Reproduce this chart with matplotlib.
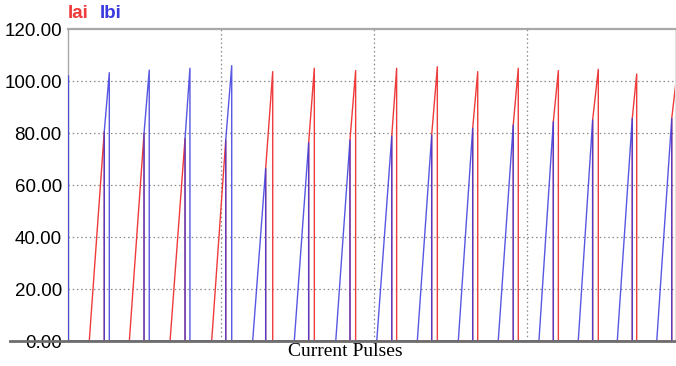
import matplotlib.pyplot as plt
from matplotlib.lines import Line2D

# phase current pulses, time in grid divisions of 10
pulse_start  = [-1.27, 1.39, 4.01, 6.67, 9.39, 12.07, 14.79, 17.50, 20.18, 22.83, 25.51, 28.12, 30.78, 33.35, 35.90, 38.48]
pulse_switch = [-0.29, 2.37, 4.97, 7.65, 10.31, 12.92, 15.73, 18.43, 21.16, 23.77, 26.45, 29.10, 31.72, 34.29, 36.88, 39.46]
pulse_peak   = [0.03, 2.70, 5.31, 7.97, 10.70, 13.38, 16.10, 18.80, 21.48, 24.14, 26.78, 29.43, 32.05, 34.66, 37.17, 39.80]
switch_level = [80.0, 80.5, 79.9, 77.9, 77.3, 66.4, 76.3, 77.3, 78.8, 79.2, 81.8, 83.1, 84.3, 85.0, 85.6, 85.6]
peak_level   = [102.0, 103.2, 104.2, 104.9, 105.9, 103.6, 104.9, 104.0, 104.9, 105.5, 103.6, 104.9, 104.0, 104.5, 102.7, 103.0]
lead_phase   = ['a', 'a', 'a', 'a', 'a', 'b', 'b', 'b', 'b', 'b', 'b', 'b', 'b', 'b', 'b', 'b']

yticks = [0, 20, 40, 60, 80, 100, 120]
xgrid = [10, 20, 30]

RED = '#ee3b3b'
BLUE = '#3a3ade'

# build each phase as one polyline
trace = {'a': ([], []), 'b': ([], [])}
for t0, t1, t2, v1, v2, lead in zip(pulse_start, pulse_switch, pulse_peak,
                                    switch_level, peak_level, lead_phase):
    lag = 'b' if lead == 'a' else 'a'
    xs, ys = trace[lead]
    xs += [t0, t1, t1]
    ys += [0, v1, 0]
    xs, ys = trace[lag]
    xs += [t1, t1, t2, t2]
    ys += [0, v1, v2, 0]

W, H = 676, 366
fig = plt.figure(figsize=(W / 100, H / 100), dpi=100)
ax = fig.add_axes([68 / W, (H - 341) / H, (675 - 68) / W, (341 - 29) / H])

ax.set_xlim(0, (675 - 68) / 15.3)
ax.set_ylim(0, 120)

for y in yticks[1:-1]:
    ax.axhline(y, color='#8a8a8a', lw=0.9, dashes=(1.2, 2.2), zorder=1)
for x in xgrid:
    ax.axvline(x, color='#8a8a8a', lw=0.9, dashes=(1.2, 2.2), zorder=1)

ax.plot(*trace['a'], color=RED, lw=1.0, zorder=3)
ax.plot(*trace['b'], color=BLUE, lw=1.0, alpha=0.85, zorder=4)

ax.set_xticks([])
ax.set_yticks(yticks)
ax.set_yticklabels(['%.2f' % v for v in yticks], fontsize=13.5,
                   family='Liberation Sans')
ax.tick_params(axis='y', length=0, pad=4.5)
ax.get_yticklabels()[0].set_y(2)

for side in ['left', 'top', 'right']:
    ax.spines[side].set_color('#a8a8a8')
ax.spines['left'].set_linewidth(1.0)
ax.spines['top'].set_linewidth(1.6)
ax.spines['right'].set_linewidth(0.6)
ax.spines['right'].set_color('#dddddd')
ax.spines['bottom'].set_visible(False)

# baseline runs through the zero label
fig.add_artist(Line2D([10 / W, 1.0], [(H - 341) / H] * 2, color='#6e6e6e',
                      lw=2.0, zorder=5))

fig.text(68 / W, (H - 13) / H, 'Iai', color=RED, fontsize=13.5, weight='bold',
         family='Liberation Sans', va='center', ha='left')
fig.text(100 / W, (H - 13) / H, 'Ibi', color=BLUE, fontsize=13.5, weight='bold',
         family='Liberation Sans', va='center', ha='left')

fig.text(345 / W, (H - 352) / H, 'Current Pulses', fontsize=14,
         family='Liberation Serif', va='center', ha='center')

fig.savefig('out.png', dpi=100)
